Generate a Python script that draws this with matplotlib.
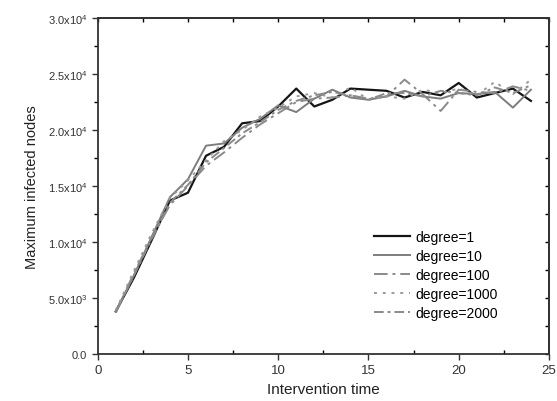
import matplotlib
matplotlib.use("Agg")
import matplotlib.pyplot as plt
from matplotlib.ticker import MultipleLocator, FuncFormatter

plt.rcParams['font.family'] = ['Liberation Sans', 'DejaVu Sans']
plt.rcParams['mathtext.fontset'] = 'custom'
plt.rcParams['mathtext.rm'] = 'Liberation Sans'

times = list(range(1, 25))
deg_1    = [3800, 6800, 10200, 13700, 14400, 17700, 18500, 20600, 20800, 22100, 23700, 22100,
            22700, 23700, 23600, 23500, 22900, 23400, 23100, 24200, 22900, 23300, 23700, 22600]
deg_10   = [3800, 7000, 10500, 14000, 15600, 18600, 18800, 20200, 21000, 22200, 21600, 22800,
            23600, 22900, 22700, 23000, 23500, 23000, 22800, 23300, 23200, 23400, 22000, 23600]
deg_100  = [3700, 7200, 10400, 13300, 15000, 16800, 18000, 19300, 20500, 21500, 22500, 22800,
            22900, 23100, 22800, 23000, 24500, 23200, 21700, 23600, 23400, 23300, 23900, 23500]
deg_1000 = [3900, 7400, 10800, 13900, 15500, 17300, 19000, 20000, 21200, 22000, 23000, 23300,
            22900, 23800, 22700, 23000, 22800, 23600, 23300, 23700, 23100, 24300, 23200, 24500]
deg_2000 = [3700, 7000, 10300, 13500, 15100, 17100, 18400, 19700, 20700, 21800, 22600, 23100,
            23400, 23100, 22700, 23300, 23300, 23000, 23500, 23300, 23100, 23800, 23300, 24000]

series = [
    ("degree=1",    deg_1,    dict(color="#151515", lw=1.6, ls="-")),
    ("degree=10",   deg_10,   dict(color="#7d7d7d", lw=1.4, ls="-")),
    ("degree=100",  deg_100,  dict(color="#8a8a8a", lw=1.4, ls=(0, (7, 2.5, 1.5, 2.5)))),
    ("degree=1000", deg_1000, dict(color="#9a9a9a", lw=1.4, ls=(0, (1.5, 3)))),
    ("degree=2000", deg_2000, dict(color="#8a8a8a", lw=1.4, ls=(0, (5, 2, 1.5, 2)))),
]

fig = plt.figure(figsize=(5.57, 4.02), dpi=100)
ax = fig.add_axes([0.1754, 0.1169, 0.9856 - 0.1754, 0.9527 - 0.1169])

for label, vals, style in series:
    ax.plot(times, vals, label=label, **style)

ax.set_xlim(0, 25)
ax.set_ylim(0, 30000)
ax.xaxis.set_major_locator(MultipleLocator(5))
ax.xaxis.set_minor_locator(MultipleLocator(2.5))
ax.yaxis.set_major_locator(MultipleLocator(5000))
ax.yaxis.set_minor_locator(MultipleLocator(2500))


def yfmt(v, pos):
    if v == 0:
        return "0.0"
    exp = 4 if v >= 10000 else 3
    return r"%.1fx10$^{%d}$" % (v / 10 ** exp, exp)


ax.yaxis.set_major_formatter(FuncFormatter(yfmt))
ax.tick_params(axis="both", which="major", direction="out", length=4, width=1, labelsize=8, colors="#333333")
ax.tick_params(axis="x", which="major", labelsize=9.5)
ax.tick_params(axis="x", which="minor", direction="in", length=3, width=1)
ax.tick_params(axis="y", which="minor", direction="out", length=3, width=1)

# mirrored ticks on top and right, pointing inward
top = ax.secondary_xaxis("top")
top.xaxis.set_major_locator(MultipleLocator(2.5))
top.tick_params(direction="in", length=3, width=1, labeltop=False)
right = ax.secondary_yaxis("right")
right.yaxis.set_major_locator(MultipleLocator(2500))
right.tick_params(direction="in", length=3, width=1, labelright=False)

for sp in list(ax.spines.values()) + [top.spines["top"], right.spines["right"]]:
    sp.set_linewidth(1.3)
    sp.set_color("#333333")

ax.set_xlabel("Intervention time", fontsize=11, color="#222222", labelpad=4)
ax.set_ylabel("Maximum infected nodes", fontsize=10.5, color="#222222", labelpad=6)

ax.legend(loc="upper left", bbox_to_anchor=(0.6, 0.385), frameon=False, fontsize=10,
          handlelength=2.6, handletextpad=0.4, labelspacing=0.35, borderaxespad=0)

fig.savefig("out.png", dpi=100)
